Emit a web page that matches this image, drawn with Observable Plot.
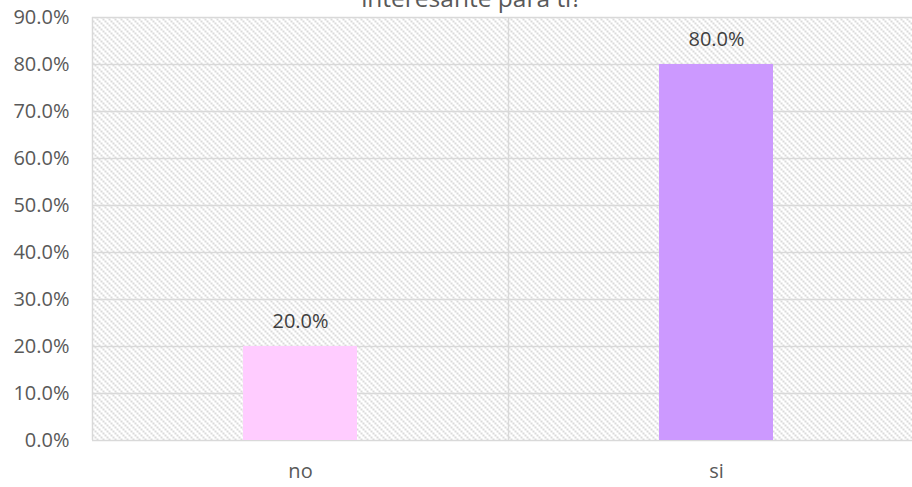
<!DOCTYPE html>
<html><head><meta charset="utf-8">
<script src="https://cdn.jsdelivr.net/npm/d3@7"></script>
<script src="https://cdn.jsdelivr.net/npm/@observablehq/plot@0.6"></script>
<style>html,body{margin:0;padding:0;background:#fff;overflow:hidden}</style>
</head><body><div id="chart"></div>
<script>
const categories = ["no", "si"];
const values = [0.2, 0.8];
const barColors = ["#FFCCFF", "#CC99FF"];
const yTicks = [0, 0.1, 0.2, 0.3, 0.4, 0.5, 0.6, 0.7, 0.8, 0.9];
const titleText = "interesante para ti?";

const data = categories.map((c, i) => ({cat: c, val: values[i], color: barColors[i]}));
const W = 912, H = 487;
const xRange = [92, 924];
const step = (xRange[1] - xRange[0]) / categories.length;
const pct = d3.format(".1%");

const chart = Plot.plot({
  width: W, height: H,
  marginLeft: 92, marginRight: 0, marginTop: 17, marginBottom: 47,
  style: {fontFamily: "'Open Sans', sans-serif", fontSize: "20px", color: "#595959", background: "#fff", overflow: "hidden"},
  x: {domain: categories, range: xRange, paddingInner: 0.726, paddingOuter: 0.363, label: null},
  y: {domain: [0, 0.9], label: null},
  color: {type: "identity"},
  marks: [
    Plot.frame({fill: "url(#hatch)", stroke: "none"}),
    Plot.gridY(yTicks, {stroke: "#d9d9d9", strokeOpacity: 1, strokeWidth: 1.5}),
    Plot.gridX(categories, {dx: -step / 2, stroke: "#d9d9d9", strokeOpacity: 1, strokeWidth: 1.5}),
    Plot.barY(data, {x: "cat", y: "val", fill: "color"}),
    Plot.text(data, {x: "cat", y: "val", text: d => pct(d.val), dy: -25, fill: "#404040", fontSize: 20}),
    Plot.axisY(yTicks, {tickFormat: pct, tickSize: 0, tickPadding: 23, fontSize: 20}),
    Plot.axisX({tickSize: 0, tickPadding: 23, fontSize: 20}),
    Plot.text([titleText], {text: d => d, frameAnchor: "top", dx: -31, dy: -11, lineAnchor: "bottom", fontSize: 24.5, fill: "#595959"})
  ]
});

const defs = d3.select(chart).insert("defs", ":first-child");
const pat = defs.append("pattern").attr("id", "hatch").attr("patternUnits", "userSpaceOnUse").attr("width", 6).attr("height", 6);
[[0, 0], [2, 2], [4, 4]].forEach(([px, py]) =>
  pat.append("rect").attr("x", px).attr("y", py).attr("width", 2).attr("height", 2)
    .attr("fill", "#dadada").attr("shape-rendering", "crispEdges"));

document.getElementById("chart").appendChild(chart);
</script>
</body></html>
